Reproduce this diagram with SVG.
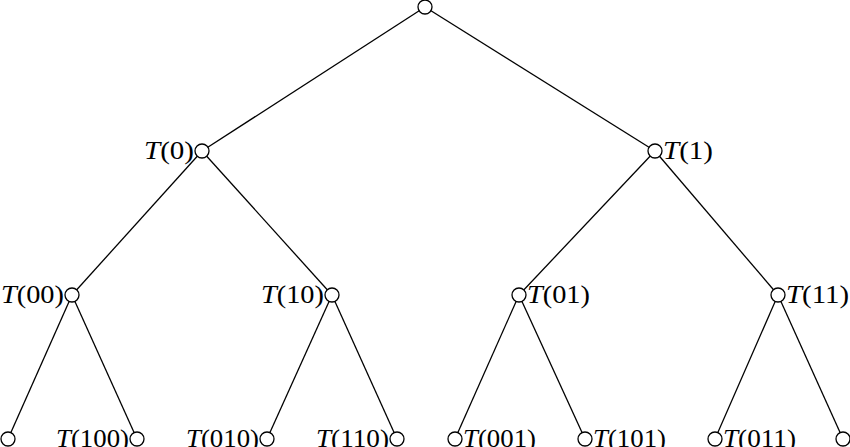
<svg xmlns="http://www.w3.org/2000/svg" width="850" height="447" viewBox="0 0 850 447">
<style>
.e{stroke:#000;stroke-width:1.3;fill:none}
.n{fill:#fff;stroke:#000;stroke-width:1.3}
.l{font-family:"Liberation Serif","Times New Roman",serif;font-size:26px;fill:#000}
.i{font-style:italic}
</style>
<rect width="850" height="447" fill="#fff"/>
<g id="connectors">
<line class="e" x1="425" y1="7" x2="202" y2="151"/>
<line class="e" x1="425" y1="7" x2="655" y2="151"/>
<line class="e" x1="202" y1="151" x2="72" y2="295"/>
<line class="e" x1="202" y1="151" x2="332" y2="295"/>
<line class="e" x1="655" y1="151" x2="519" y2="295"/>
<line class="e" x1="655" y1="151" x2="778" y2="295"/>
<line class="e" x1="72" y1="295" x2="8" y2="439"/>
<line class="e" x1="72" y1="295" x2="137" y2="439"/>
<line class="e" x1="332" y1="295" x2="267" y2="439"/>
<line class="e" x1="332" y1="295" x2="397" y2="439"/>
<line class="e" x1="519" y1="295" x2="455" y2="439"/>
<line class="e" x1="519" y1="295" x2="585" y2="439"/>
<line class="e" x1="778" y1="295" x2="715" y2="439"/>
<line class="e" x1="778" y1="295" x2="843" y2="439"/>
</g>
<g id="root"><circle class="n" cx="425" cy="7" r="7"/></g>
<g id="T0"><circle class="n" cx="202" cy="151" r="7"/><text class="l" x="194" y="159" text-anchor="end" textLength="50" lengthAdjust="spacingAndGlyphs"><tspan class="i">T</tspan>(0)</text></g>
<g id="T1"><circle class="n" cx="655" cy="151" r="7"/><text class="l" x="663" y="159" textLength="50" lengthAdjust="spacingAndGlyphs"><tspan class="i">T</tspan>(1)</text></g>
<g id="T00"><circle class="n" cx="72" cy="295" r="7"/><text class="l" x="64" y="303" text-anchor="end" textLength="63" lengthAdjust="spacingAndGlyphs"><tspan class="i">T</tspan>(00)</text></g>
<g id="T10"><circle class="n" cx="332" cy="295" r="7"/><text class="l" x="324" y="303" text-anchor="end" textLength="63" lengthAdjust="spacingAndGlyphs"><tspan class="i">T</tspan>(10)</text></g>
<g id="T01"><circle class="n" cx="519" cy="295" r="7"/><text class="l" x="527" y="303" textLength="63" lengthAdjust="spacingAndGlyphs"><tspan class="i">T</tspan>(01)</text></g>
<g id="T11"><circle class="n" cx="778" cy="295" r="7"/><text class="l" x="786" y="303" textLength="63" lengthAdjust="spacingAndGlyphs"><tspan class="i">T</tspan>(11)</text></g>
<g id="L000"><circle class="n" cx="8" cy="439" r="7"/></g>
<g id="T100"><circle class="n" cx="137" cy="439" r="7"/><text class="l" x="129" y="447" text-anchor="end" textLength="73" lengthAdjust="spacingAndGlyphs"><tspan class="i">T</tspan>(100)</text></g>
<g id="T010"><circle class="n" cx="267" cy="439" r="7"/><text class="l" x="259" y="447" text-anchor="end" textLength="73" lengthAdjust="spacingAndGlyphs"><tspan class="i">T</tspan>(010)</text></g>
<g id="T110"><circle class="n" cx="397" cy="439" r="7"/><text class="l" x="389" y="447" text-anchor="end" textLength="73" lengthAdjust="spacingAndGlyphs"><tspan class="i">T</tspan>(110)</text></g>
<g id="T001"><circle class="n" cx="455" cy="439" r="7"/><text class="l" x="463" y="447" textLength="73" lengthAdjust="spacingAndGlyphs"><tspan class="i">T</tspan>(001)</text></g>
<g id="T101"><circle class="n" cx="585" cy="439" r="7"/><text class="l" x="593" y="447" textLength="73" lengthAdjust="spacingAndGlyphs"><tspan class="i">T</tspan>(101)</text></g>
<g id="T011"><circle class="n" cx="715" cy="439" r="7"/><text class="l" x="723" y="447" textLength="73" lengthAdjust="spacingAndGlyphs"><tspan class="i">T</tspan>(011)</text></g>
<g id="L111"><circle class="n" cx="843" cy="439" r="7"/></g>
</svg>
